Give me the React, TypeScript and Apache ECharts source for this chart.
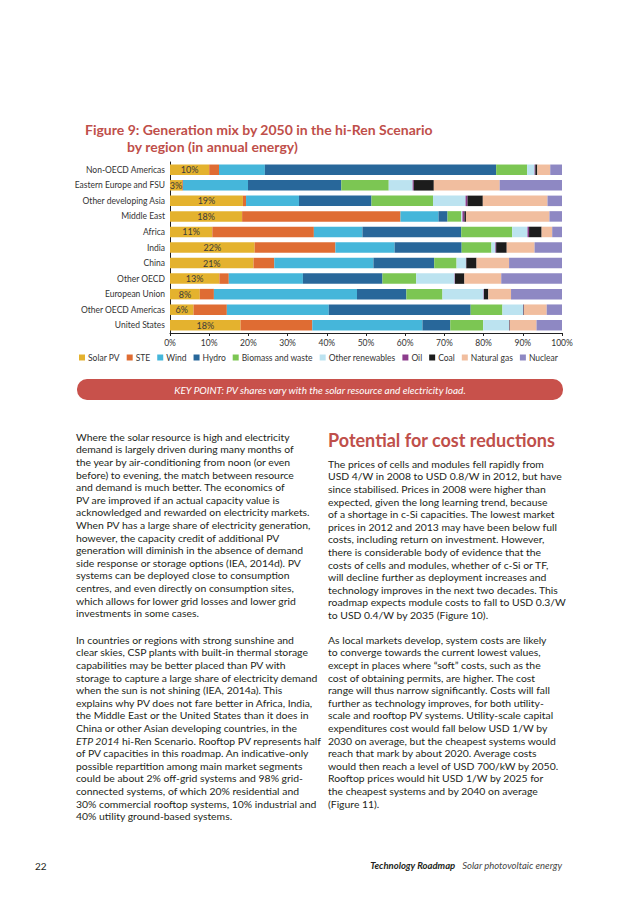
import React, { useEffect, useRef } from "react";
import * as echarts from "echarts";

const categories = [
  "Non-OECD Americas",
  "Eastern Europe and FSU",
  "Other developing Asia",
  "Middle East",
  "Africa",
  "India",
  "China",
  "Other OECD",
  "European Union",
  "Other OECD Americas",
  "United States",
];

const solarPV = [10.0, 3.1, 18.6, 18.4, 10.8, 21.6, 21.3, 12.6, 7.6, 6.0, 18.0];
const ste = [2.5, 0.2, 0.8, 40.4, 25.9, 20.6, 5.3, 2.4, 3.6, 8.5, 18.3];
const wind = [11.7, 16.6, 13.5, 9.7, 12.4, 15.1, 25.3, 18.9, 36.5, 26.0, 28.1];
const hydro = [59.0, 23.8, 18.5, 2.3, 25.2, 17.1, 15.5, 20.3, 12.6, 36.2, 7.1];
const biomass = [7.9, 12.1, 15.7, 3.5, 13.0, 7.6, 5.7, 8.6, 9.2, 8.1, 8.4];
const otherRenewables = [1.9, 6.1, 8.3, 0.3, 3.9, 1.0, 2.4, 9.8, 10.5, 5.3, 6.6];
const oil = [0.2, 0.3, 0.5, 0.5, 0.4, 0.2, 0.1, 0.1, 0.1, 0.1, 0.1];
const coal = [0.5, 5.1, 3.9, 0.4, 3.2, 2.7, 2.6, 2.4, 1.1, 0.1, 0.1];
const naturalGas = [3.3, 16.8, 16.5, 21.3, 2.7, 7.1, 8.3, 9.4, 5.8, 5.8, 6.8];
const nuclear = [3.0, 15.9, 3.7, 3.2, 2.5, 7.0, 13.5, 15.5, 13.0, 3.9, 6.5];

const seriesNames = [
  "Solar PV",
  "STE",
  "Wind",
  "Hydro",
  "Biomass and waste",
  "Other renewables",
  "Oil",
  "Coal",
  "Natural gas",
  "Nuclear",
];
const seriesValues = [solarPV, ste, wind, hydro, biomass, otherRenewables, oil, coal, naturalGas, nuclear];
const seriesColors = [
  "#E4B22E",
  "#DF6C33",
  "#45B6DA",
  "#28679A",
  "#7CC653",
  "#BCE3F0",
  "#8C3C8C",
  "#1C1C1C",
  "#F1BE9F",
  "#8E88C3",
];

const xTicks = [0, 10, 20, 30, 40, 50, 60, 70, 80, 90, 100];

const FONT = "Lato, 'Open Sans', sans-serif";
const RED = "#BF4F4A";
const INK = "#231F20";

const leftP1 = [
  "Where the solar resource is high and electricity",
  "demand is largely driven during many months of",
  "the year by air-conditioning from noon (or even",
  "before) to evening, the match between resource",
  "and demand is much better. The economics of",
  "PV are improved if an actual capacity value is",
  "acknowledged and rewarded on electricity markets.",
  "When PV has a large share of electricity generation,",
  "however, the capacity credit of additional PV",
  "generation will diminish in the absence of demand",
  "side response or storage options (IEA, 2014d). PV",
  "systems can be deployed close to consumption",
  "centres, and even directly on consumption sites,",
  "which allows for lower grid losses and lower grid",
  "investments in some cases.",
];
const leftP2 = [
  "In countries or regions with strong sunshine and",
  "clear skies, CSP plants with built-in thermal storage",
  "capabilities may be better placed than PV with",
  "storage to capture a large share of electricity demand",
  "when the sun is not shining (IEA, 2014a). This",
  "explains why PV does not fare better in Africa, India,",
  "the Middle East or the United States than it does in",
  "China or other Asian developing countries, in the",
  "ETP 2014 hi-Ren Scenario. Rooftop PV represents half",
  "of PV capacities in this roadmap. An indicative-only",
  "possible repartition among main market segments",
  "could be about 2% off-grid systems and 98% grid-",
  "connected systems, of which 20% residential and",
  "30% commercial rooftop systems, 10% industrial and",
  "40% utility ground-based systems.",
];
const rightP1 = [
  "The prices of cells and modules fell rapidly from",
  "USD 4/W in 2008 to USD 0.8/W in 2012, but have",
  "since stabilised. Prices in 2008 were higher than",
  "expected, given the long learning trend, because",
  "of a shortage in c-Si capacities. The lowest market",
  "prices in 2012 and 2013 may have been below full",
  "costs, including return on investment. However,",
  "there is considerable body of evidence that the",
  "costs of cells and modules, whether of c-Si or TF,",
  "will decline further as deployment increases and",
  "technology improves in the next two decades. This",
  "roadmap expects module costs to fall to USD 0.3/W",
  "to USD 0.4/W by 2035 (Figure 10).",
];
const rightP2 = [
  "As local markets develop, system costs are likely",
  "to converge towards the current lowest values,",
  "except in places where \u201csoft\u201d costs, such as the",
  "cost of obtaining permits, are higher. The cost",
  "range will thus narrow significantly. Costs will fall",
  "further as technology improves, for both utility-",
  "scale and rooftop PV systems. Utility-scale capital",
  "expenditures cost would fall below USD 1/W by",
  "2030 on average, but the cheapest systems would",
  "reach that mark by about 2020. Average costs",
  "would then reach a level of USD 700/kW by 2050.",
  "Rooftop prices would hit USD 1/W by 2025 for",
  "the cheapest systems and by 2040 on average",
  "(Figure 11).",
];

const LH = 12.6;
const BODY_SIZE = 10.4;

function renderLine(l: string) {
  if (l.startsWith("ETP 2014")) {
    return (
      <>
        <i>ETP 2014</i>
        {l.slice(8)}
      </>
    );
  }
  return l;
}

function Para({ lines, x, y }: { lines: string[]; x: number; y: number }) {
  return (
    <>
      {lines.map((l, i) => (
        <div
          key={i}
          style={{
            position: "absolute",
            left: x,
            top: y - LH / 2 + i * LH,
            height: LH,
            lineHeight: LH + "px",
            whiteSpace: "nowrap",
            fontSize: BODY_SIZE,
            color: INK,
          }}
        >
          {renderLine(l)}
        </div>
      ))}
    </>
  );
}

export default function App() {
  const ref = useRef<HTMLDivElement>(null);

  useEffect(() => {
    if (!ref.current) return;
    const chart = echarts.init(ref.current, null, { renderer: "svg" });
    const OFF = 100;
    chart.setOption({
      animation: false,
      textStyle: { fontFamily: FONT },
      title: [
        {
          text: "Figure 9: Generation mix by 2050 in the hi-Ren Scenario",
          left: 80,
          top: 117 - OFF,
          textStyle: { fontFamily: FONT, fontSize: 14, fontWeight: "bold", color: RED },
        },
        {
          text: "by region (in annual energy)",
          left: 122,
          top: 134 - OFF,
          textStyle: { fontFamily: FONT, fontSize: 14, fontWeight: "bold", color: RED },
        },
      ],
      legend: {
        data: seriesNames,
        left: 74,
        top: 348 - OFF,
        icon: "rect",
        itemWidth: 6,
        itemHeight: 6,
        itemGap: 7,
        textStyle: { fontFamily: FONT, fontSize: 8.5, color: "#333", padding: [0, 0, 0, -2] },
        selectedMode: false,
      },
      grid: { left: 170, right: 638 - 562, top: 162 - OFF, height: 171, containLabel: false },
      xAxis: {
        type: "value",
        min: 0,
        max: 100,
        interval: 10,
        axisLine: { show: true, lineStyle: { color: "#222", width: 1 } },
        axisTick: { show: true, length: 3, lineStyle: { color: "#222" } },
        splitLine: { show: false },
        axisLabel: {
          formatter: (v: number) => (xTicks.includes(v) ? v + "%" : ""),
          fontSize: 8.5,
          color: "#333",
          margin: 5,
          fontFamily: FONT,
        },
      },
      yAxis: {
        type: "category",
        data: categories,
        inverse: true,
        axisLine: { show: true, lineStyle: { color: "#222", width: 1 } },
        axisTick: { show: false },
        axisLabel: { fontSize: 8.5, color: "#333", margin: 5, fontFamily: FONT },
      },
      series: seriesNames.map((name, i) => ({
        name,
        type: "bar",
        stack: "total",
        barWidth: 10.5,
        data: seriesValues[i],
        itemStyle: { color: seriesColors[i] },
        label:
          i === 0
            ? {
                show: true,
                position: "inside",
                formatter: (p: any) => Math.round(p.value) + "%",
                fontSize: 9,
                color: "#3a3a3a",
                fontFamily: FONT,
              }
            : { show: false },
      })),
      graphic: [
        {
          type: "rect",
          shape: { x: 77, y: 379 - OFF, width: 486, height: 21, r: 10 },
          style: { fill: "#C8514B" },
        },
        {
          type: "text",
          x: 320,
          y: 389.5 - OFF,
          style: {
            text: "KEY POINT: PV shares vary with the solar resource and electricity load.",
            fill: "#fff",
            fontSize: 10,
            fontStyle: "italic",
            fontFamily: FONT,
            align: "center",
            verticalAlign: "middle",
          },
        },
      ],
    });
    return () => chart.dispose();
  }, []);

  return (
    <div
      style={{
        position: "absolute",
        left: 0,
        top: 0,
        width: 638,
        height: 903,
        background: "#fff",
        fontFamily: FONT,
        overflow: "hidden",
      }}
    >
      <div ref={ref} style={{ position: "absolute", left: 0, top: 100, width: 638, height: 310 }} />
      <Para lines={leftP1} x={76} y={437} />
      <Para lines={leftP2} x={76} y={640} />
      <div
        style={{
          position: "absolute",
          left: 328,
          top: 428,
          lineHeight: "24px",
          fontSize: 18,
          fontWeight: "bold",
          color: RED,
          whiteSpace: "nowrap",
        }}
      >
        Potential for cost reductions
      </div>
      <Para lines={rightP1} x={328} y={464} />
      <Para lines={rightP2} x={328} y={640} />
      <div
        style={{
          position: "absolute",
          left: 35,
          top: 859,
          lineHeight: "14px",
          fontSize: 10,
          color: INK,
        }}
      >
        22
      </div>
      <div
        style={{
          position: "absolute",
          right: 638 - 562,
          top: 859,
          lineHeight: "14px",
          fontSize: 9.5,
          color: INK,
          whiteSpace: "nowrap",
        }}
      >
        <b>
          <i>Technology Roadmap</i>
        </b>
        <span style={{ display: "inline-block", width: 7 }} />
        <i style={{ color: "#444" }}>Solar photovoltaic energy</i>
      </div>
    </div>
  );
}
